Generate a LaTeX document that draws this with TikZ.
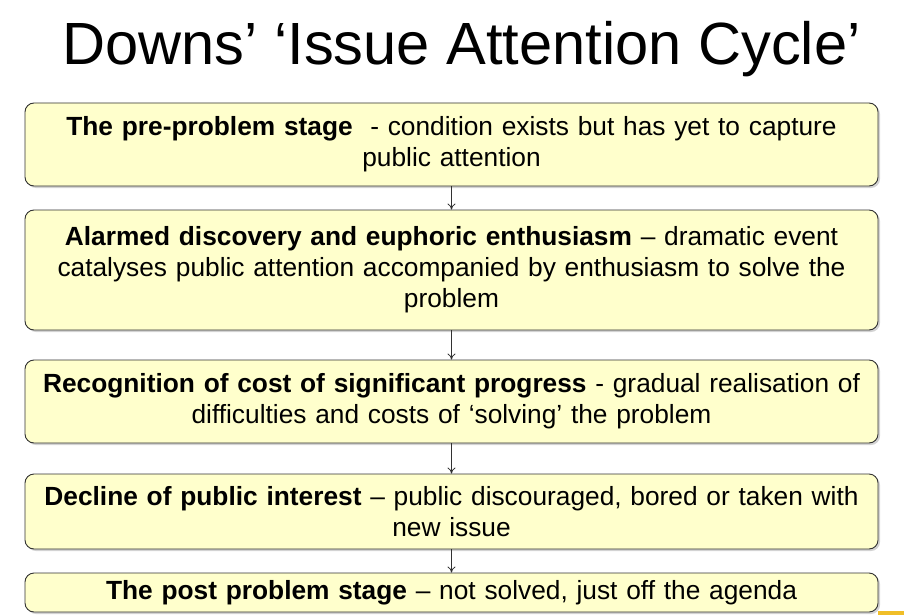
\documentclass[tikz,border=0pt]{standalone}
\usepackage{fontspec}
\setmainfont{Liberation Sans}
\usetikzlibrary{shadows,arrows.meta}
\definecolor{stagefill}{RGB}{255,255,204}
\definecolor{stageline}{RGB}{50,50,50}
\definecolor{slidebar}{RGB}{240,190,40}
\begin{document}
\begin{tikzpicture}[x=1pt,y=-1pt]

      \useasboundingbox (0,0) rectangle (904,615);
      \fill[slidebar] (878,611) rectangle (904,615);

      \node[anchor=base,font=\fontsize{59.6}{66}\selectfont] (title) at (461.5,65)
        {Downs’ ‘Issue Attention Cycle’};

      \begin{scope}[every node/.style={draw=stageline,line width=.9pt,fill=stagefill,
          rounded corners=9pt,minimum width=853pt,text width=845pt,align=center,
          inner sep=0pt,drop shadow={shadow xshift=2pt,shadow yshift=-2pt,opacity=.35},
          font=\fontsize{26.3}{31}\selectfont}]
        \node[minimum height=83pt]  (pre)     at (451.5,144.5)
          {\textbf{The pre-problem stage}\ \ - condition exists but has yet to capture\\ public attention};
        \node[minimum height=120pt] (alarm)   at (451.5,270)
          {\textbf{Alarmed discovery and euphoric enthusiasm} – dramatic event\\ catalyses public attention accompanied by enthusiasm to solve the\\ problem};
        \node[minimum height=83pt]  (cost)    at (451.5,401.5)
          {\textbf{Recognition of cost of significant progress} - gradual realisation of\\ difficulties and costs of ‘solving’ the problem};
        \node[minimum height=75pt]  (decline) at (451.5,511.5)
          {\textbf{Decline of public interest} – public discouraged, bored or taken with\\ new issue};
        \node[minimum height=39pt]  (post)    at (451.5,592.5)
          {\textbf{The post problem stage} – not solved, just off the agenda};
      \end{scope}

      \begin{scope}[every edge/.style={draw=stageline,line width=.8pt,-{To[length=6pt,width=8pt]}}]
        \path (pre)     edge (alarm);
        \path (alarm)   edge (cost);
        \path (cost)    edge (decline);
        \path (decline) edge (post);
      \end{scope}

    \end{tikzpicture}
\end{document}
